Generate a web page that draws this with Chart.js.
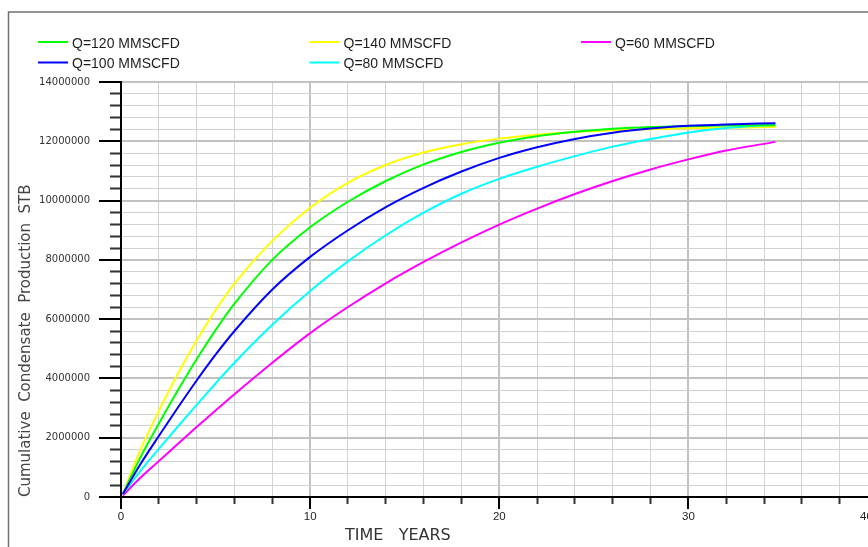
<!DOCTYPE html>
<html><head><meta charset="utf-8">
<script src="https://cdn.jsdelivr.net/npm/chart.js@4.4.1/dist/chart.umd.min.js"></script>
<style>
html,body{margin:0;padding:0;background:#fff;overflow:hidden;width:868px;height:547px;}
#wrap{position:absolute;left:0;top:0;width:900px;height:547px;}
</style></head><body>
<div id="wrap"><canvas id="c"></canvas></div>
<script>
// ---- data (time in years, cumulative condensate in STB) ----
const TIME_YEARS = [0.1, 1, 2, 3, 4, 5, 6, 8, 10, 12, 14, 16, 18, 20, 22, 24, 26, 28, 30, 32, 34.6];
const Q120 = [0.1e6, 1.3e6, 2.47e6, 3.59e6, 4.65e6, 5.63e6, 6.52e6, 8.0e6, 9.1e6, 9.96e6, 10.66e6, 11.22e6, 11.64e6, 11.95e6, 12.17e6, 12.32e6, 12.42e6, 12.48e6, 12.51e6, 12.53e6, 12.54e6];
const Q140 = [0.1e6, 1.55e6, 2.9e6, 4.15e6, 5.28e6, 6.3e6, 7.2e6, 8.64e6, 9.76e6, 10.6e6, 11.2e6, 11.62e6, 11.9e6, 12.09e6, 12.22e6, 12.31e6, 12.37e6, 12.41e6, 12.44e6, 12.46e6, 12.48e6];
const Q60  = [0.05e6, 0.63e6, 1.21e6, 1.79e6, 2.36e6, 2.92e6, 3.47e6, 4.53e6, 5.53e6, 6.41e6, 7.21e6, 7.93e6, 8.59e6, 9.19e6, 9.73e6, 10.22e6, 10.66e6, 11.05e6, 11.39e6, 11.69e6, 11.98e6];
const Q100 = [0.1e6, 1.08e6, 2.06e6, 3.01e6, 3.93e6, 4.8e6, 5.6e6, 7.0e6, 8.1e6, 9.0e6, 9.78e6, 10.43e6, 10.98e6, 11.44e6, 11.8e6, 12.08e6, 12.29e6, 12.43e6, 12.52e6, 12.57e6, 12.61e6];
const Q80  = [0.1e6, 0.86e6, 1.62e6, 2.37e6, 3.11e6, 3.83e6, 4.53e6, 5.81e6, 6.95e6, 7.95e6, 8.83e6, 9.59e6, 10.23e6, 10.73e6, 11.14e6, 11.5e6, 11.82e6, 12.08e6, 12.3e6, 12.45e6, 12.56e6];

const SERIES_LABELS = ['Q=120 MMSCFD', 'Q=140 MMSCFD', 'Q=60 MMSCFD', 'Q=100 MMSCFD', 'Q=80 MMSCFD'];
const SERIES_VALUES = [Q120, Q140, Q60, Q100, Q80];
const SERIES_COLORS = ['#00ff00', '#ffff00', '#ff00ff', '#0000ff', '#00ffff'];
const SERIES_ORDER  = [1, 3, 4, 0, 2];

const X_LABELS = [0, 10, 20, 30, 40];
const X_MINOR_STEP = 2;
const Y_LABELS = [0, 2000000, 4000000, 6000000, 8000000, 10000000, 12000000, 14000000];
const Y_MINOR_STEP = 400000;
const X_TITLE = 'TIME   YEARS';
const Y_TITLE = 'Cumulative  Condensate  Production  STB';

const X_TICKS = [];
for (let v = 0; v <= 40; v += X_MINOR_STEP) X_TICKS.push(v);
const Y_TICKS = [];
for (let v = 0; v <= 14000000; v += Y_MINOR_STEP) Y_TICKS.push(v);

const isXMajor = v => X_LABELS.includes(v);
const isYMajor = v => Y_LABELS.includes(v);

const datasets = SERIES_LABELS.map((lab, i) => ({
  label: lab,
  data: TIME_YEARS.map((t, k) => ({x: t, y: SERIES_VALUES[i][k]})),
  borderColor: SERIES_COLORS[i],
  backgroundColor: SERIES_COLORS[i],
  borderWidth: 2,
  pointRadius: 0,
  fill: false,
  cubicInterpolationMode: 'monotone',
  order: SERIES_ORDER[i]
}));

const decorPlugin = {
  id: 'decor',
  beforeDraw(chart) {
    const ctx = chart.ctx;
    ctx.save();
    ctx.strokeStyle = '#707070';
    ctx.lineWidth = 1.5;
    ctx.beginPath();
    ctx.moveTo(8.5, 547);
    ctx.lineTo(8.5, 12);
    ctx.lineTo(chart.width, 12);
    ctx.stroke();
    ctx.restore();
  },
  afterDraw(chart) {
    const ctx = chart.ctx;
    ctx.save();
    chart.data.datasets.forEach((ds, i) => {
      const col = i % 3, row = Math.floor(i / 3);
      const x = 38 + col * 271.5, y = 42 + row * 20.5;
      ctx.strokeStyle = ds.borderColor;
      ctx.lineWidth = 2;
      ctx.beginPath();
      ctx.moveTo(x, y);
      ctx.lineTo(x + 30, y);
      ctx.stroke();
      ctx.fillStyle = '#1e1e1e';
      ctx.font = '14px "Liberation Sans", Arial, sans-serif';
      ctx.textBaseline = 'middle';
      ctx.textAlign = 'left';
      ctx.fillText(ds.label, x + 34, y + 2);
    });
    ctx.fillStyle = '#333';
    ctx.font = '16px "DejaVu Sans", sans-serif';
    ctx.textBaseline = 'middle';
    ctx.textAlign = 'left';
    ctx.fillText(X_TITLE, 345, 536);
    ctx.restore();
  }
};

new Chart(document.getElementById('c'), {
  type: 'line',
  data: {datasets},
  options: {
    responsive: true,
    maintainAspectRatio: false,
    animation: false,
    layout: {padding: {top: 82, right: 22.4, bottom: 0, left: 0}},
    plugins: {legend: {display: false}, tooltip: {enabled: false}},
    scales: {
      x: {
        type: 'linear',
        min: 0, max: 40,
        afterBuildTicks: s => { s.ticks = X_TICKS.map(v => ({value: v})); },
        afterFit: s => { s.height = 50; },
        ticks: {
          autoSkip: false, maxRotation: 0, minRotation: 0, padding: 1,
          color: '#222',
          font: {family: '"Liberation Sans", Arial, sans-serif', size: 11.5},
          callback: v => isXMajor(v) ? (v === 40 ? '40\u00a0\u00a0\u00a0\u00a0\u00a0\u00a0\u00a0' : String(v)) : ''
        },
        grid: {
          color: c => (c.tick && isXMajor(c.tick.value)) ? '#c2c2c2' : '#d2d2d2',
          lineWidth: c => (c.tick && isXMajor(c.tick.value)) ? 2 : 1,
          drawTicks: true,
          tickLength: 12,
          tickWidth: 2,
          tickColor: c => (c.tick && isXMajor(c.tick.value)) ? '#000' : '#333',
          tickBorderDash: c => (c.tick && isXMajor(c.tick.value)) ? [] : [6, 60]
        },
        border: {display: true, color: '#000', width: 2}
      },
      y: {
        type: 'linear',
        min: 0, max: 14000000,
        afterBuildTicks: s => { s.ticks = Y_TICKS.map(v => ({value: v})); },
        afterFit: s => { s.width = 121; },
        ticks: {
          autoSkip: false, padding: 9,
          color: '#333',
          font: {family: '"DejaVu Sans", sans-serif', size: 10},
          callback: v => isYMajor(v) ? String(v) : ''
        },
        grid: {
          color: c => (c.tick && isYMajor(c.tick.value)) ? '#c2c2c2' : '#d2d2d2',
          lineWidth: c => (c.tick && isYMajor(c.tick.value)) ? 2 : 1,
          drawTicks: true,
          tickLength: 22,
          tickWidth: 2,
          tickColor: c => (c.tick && isYMajor(c.tick.value)) ? '#000' : '#333',
          tickBorderDash: c => (c.tick && isYMajor(c.tick.value)) ? [] : [0, 11, 11, 100]
        },
        border: {display: true, color: '#000', width: 2},
        title: {
          display: true,
          text: Y_TITLE,
          align: 'start',
          color: '#444',
          font: {family: '"DejaVu Sans", sans-serif', size: 15},
          padding: {top: 17, bottom: 0}
        }
      }
    }
  },
  plugins: [decorPlugin]
});
</script>
</body></html>
